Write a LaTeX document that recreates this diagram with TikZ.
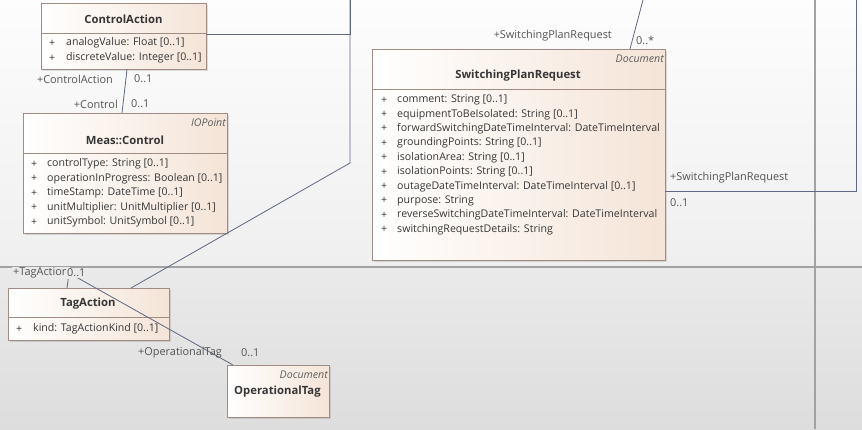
\documentclass[tikz,border=0pt]{standalone}
\usepackage{fontspec}
\setmainfont{Open Sans}
\usepackage{tikz}
\usetikzlibrary{calc}
\usetikzlibrary{positioning}
\usetikzlibrary{shadows}

\definecolor{boxline}{HTML}{A08C82}
\definecolor{boxfill}{HTML}{F5E4D7}
\definecolor{conn}{HTML}{5E6882}
\definecolor{lane}{HTML}{A2A2A2}
\definecolor{txt}{HTML}{363636}
\definecolor{bgtop}{HTML}{FDFDFD}
\definecolor{bgmid}{HTML}{EFEFEF}
\definecolor{bglow}{HTML}{EAEAEA}
\definecolor{bgbot}{HTML}{DDDDDD}

\tikzset{
  classbox/.style={draw=boxline, left color=white, right color=boxfill, anchor=north west,
    inner sep=0pt, drop shadow={shadow xshift=1.5pt, shadow yshift=-1.5pt, opacity=0.25}},
  attr/.style={anchor=west, inner sep=0pt, text=txt, font=\fontsize{10.6}{12}\selectfont},
  cname/.style={inner sep=0pt, text=txt, font=\fontsize{11.3}{13}\selectfont\bfseries},
  stereo/.style={anchor=east, inner sep=0pt, text=txt!80, font=\fontsize{10.6}{12}\selectfont\itshape},
  role/.style={inner sep=0pt, text=txt!85, font=\fontsize{10.9}{12}\selectfont},
  assoc/.style={draw=conn, line width=0.8pt},
  lanerule/.style={draw=lane, line width=1.3pt},
}

\begin{document}
\begin{tikzpicture}[x=1pt, y=-1pt]
	\useasboundingbox (0,0) rectangle (862,429);
	\shade[top color=bgtop, bottom color=bgmid] (0,0) rectangle (862,267);
	\shade[top color=bglow, bottom color=bgbot] (0,267) rectangle (862,429);

	\path[lanerule] (815,0) -- (815,429);
	\path[lanerule] (0,267) -- (862,267);

	% classes
	\node[classbox, minimum width=165pt, minimum height=66pt] (ctrlact) at (41,3) {};
	\node[classbox, minimum width=204pt, minimum height=120pt] (ctrl) at (23,113) {};
	\node[classbox, minimum width=293pt, minimum height=211pt] (spr) at (372,49) {};
	\node[classbox, minimum width=161pt, minimum height=52pt] (tagact) at (8,288) {};
	\node[classbox, minimum width=102pt, minimum height=52pt] (optag) at (227,365) {};

	\path[draw=boxline] ([yshift=-30pt]ctrlact.north west) -- ([yshift=-30pt]ctrlact.north east);
	\path[draw=boxline] ([yshift=-40pt]ctrl.north west) -- ([yshift=-40pt]ctrl.north east);
	\path[draw=boxline] ([yshift=-40pt]spr.north west) -- ([yshift=-40pt]spr.north east);
	\path[draw=boxline] ([yshift=-29pt]tagact.north west) -- ([yshift=-29pt]tagact.north east);

	\node[cname] (ctrlact-n) at (123.5,19) {ControlAction};
	\node[stereo] (ctrl-s) at (226,123) {IOPoint};
	\node[cname] (ctrl-n) at (125,140) {Meas::Control};
	\node[stereo] (spr-s) at (664,59) {Document};
	\node[cname] (spr-n) at (518,76) {SwitchingPlanRequest};
	\node[cname] (tagact-n) at (88,304) {TagAction};
	\node[stereo] (optag-s) at (328,375) {Document};
	\node[cname, anchor=west] (optag-n) at (234,392) {OperationalTag};

	% attributes
	\foreach \a [count=\i from 0] in {{analogValue: Float [0..1]}, {discreteValue: Integer [0..1]}} {
		\node[attr] (ctrlact-p\i) at (49,{43+15*\i}) {+};
		\node[attr] (ctrlact-a\i) at (66,{43+15*\i}) {\a};
	}
	\foreach \a [count=\i from 0] in {{controlType: String [0..1]}, {operationInProgress: Boolean [0..1]},
		{timeStamp: DateTime [0..1]}, {unitMultiplier: UnitMultiplier [0..1]}, {unitSymbol: UnitSymbol [0..1]}} {
		\node[attr] (ctrl-p\i) at (31,{164+14.5*\i}) {+};
		\node[attr] (ctrl-a\i) at (47,{164+14.5*\i}) {\a};
	}
	\foreach \a [count=\i from 0] in {{comment: String [0..1]}, {equipmentToBeIsolated: String [0..1]},
		{forwardSwitchingDateTimeInterval: DateTimeInterval}, {groundingPoints: String [0..1]},
		{isolationArea: String [0..1]}, {isolationPoints: String [0..1]},
		{outageDateTimeInterval: DateTimeInterval [0..1]}, {purpose: String},
		{reverseSwitchingDateTimeInterval: DateTimeInterval}, {switchingRequestDetails: String}} {
		\node[attr] (spr-p\i) at (381,{100+14.4*\i}) {+};
		\node[attr] (spr-a\i) at (397,{100+14.4*\i}) {\a};
	}
	\node[attr] (tagact-p0) at (16,329) {+};
	\node[attr] (tagact-a0) at (33,329) {kind: TagActionKind [0..1]};

	% associations
	\coordinate (topA) at (350,0);
	\coordinate (topB) at (643,0);
	\coordinate (topC) at (856,0);
	\coordinate (bendA) at (350,163);
	\coordinate (bendB) at (69,273);

	\path[assoc] ([xshift=86pt]ctrlact.south west) -- ([xshift=99pt]ctrl.north west);
	\path[assoc] ([yshift=-31pt]ctrlact.north east) -| (topA);
	\path[assoc] ([xshift=123pt]tagact.north west) -- (bendA) -- (topA);
	\path[assoc] ([xshift=258pt]spr.north west) -- (topB);
	\path[assoc] ([yshift=-142pt]spr.north east) -| (topC);
	\path[assoc] ([xshift=59pt]tagact.north west) -- (bendB) -- ([xshift=6pt]optag.north west);

	% roles
	\node[role, anchor=east] (r1) at (113,79) {+ControlAction};
	\node[role, anchor=west] (m1) at (134,79) {0..1};
	\node[role, anchor=east] (r2) at (118,104) {+Control};
	\node[role, anchor=west] (m2) at (131,104) {0..1};
	\node[role, anchor=east] (r3) at (612,36) {+SwitchingPlanRequest};
	\node[role, anchor=west] (m3) at (636,40) {0..*};
	\node[role, anchor=west] (r4) at (670,178) {+SwitchingPlanRequest};
	\node[role, anchor=west] (m4) at (670,203) {0..1};
	\node[role, anchor=west, fill=bglow, inner sep=1pt] (r5) at (12,273) {+TagAction};
	\node[role, anchor=west, fill=bglow, inner sep=1pt] (m5) at (66,273) {0..1};
	\node[role, anchor=west] (r6) at (138,353) {+OperationalTag};
	\node[role, anchor=west] (m6) at (241,353) {0..1};
\end{tikzpicture}
\end{document}
